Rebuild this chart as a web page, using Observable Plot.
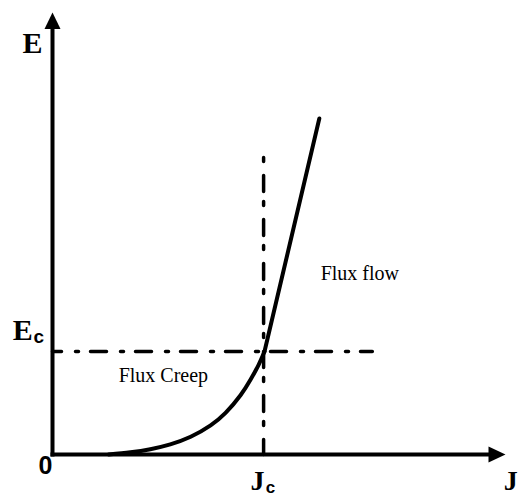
<!DOCTYPE html>
<html>
<head>
<meta charset="utf-8">
<script src="https://cdn.jsdelivr.net/npm/d3@7"></script>
<script src="https://cdn.jsdelivr.net/npm/@observablehq/plot@0.6"></script>
<style>
  html, body { margin: 0; padding: 0; background: #fff; }
</style>
</head>
<body>
<div id="chart"></div>
<script>
// ---- data (arbitrary units, axes run 0..100) ----
const curveJ = [12.4, 17.2, 21.6, 26.0, 30.5, 34.9, 38.2, 41.5, 43.7, 45.5, 46.8];
const curveE = [0, 0.5, 1.2, 2.3, 4.0, 6.6, 9.4, 13.4, 16.9, 20.3, 23.3];
const flowJ = [46.8, 58.9];
const flowE = [23.3, 76.0];
const Jc = 46.6;
const Ec = 23.3;
const jcLineE = [67.2, 0];      // vertical dash-dot line extent (top -> bottom)
const ecLineJ = [0, 70.6];      // horizontal dash-dot line extent
const axisJ = [0, 96.7];        // x-axis shaft
const axisE = [0, 96.4];        // y-axis shaft
const axisTip = 100;

const curve = curveJ.map((j, i) => ({J: j, E: curveE[i]}));
const flow = flowJ.map((j, i) => ({J: j, E: flowE[i]}));

const arrowUp = {draw(ctx) { ctx.moveTo(0, 0); ctx.lineTo(-8, 16.5); ctx.lineTo(8, 16.5); ctx.closePath(); }};
const arrowRight = {draw(ctx) { ctx.moveTo(0, 0); ctx.lineTo(-17, -8); ctx.lineTo(-17, 8); ctx.closePath(); }};

const serif = "Liberation Serif, Times New Roman, serif";
const sans = "Liberation Sans, Arial, sans-serif";

const chart = Plot.plot({
  width: 520,
  height: 497,
  marginLeft: 0, marginRight: 0, marginTop: 0, marginBottom: 0,
  x: {domain: [-11.48, 103.31], axis: null},
  y: {domain: [-9.73, 102.71], axis: null},
  style: {background: "#fff", overflow: "hidden"},
  marks: [
    // axes
    Plot.line(axisE.map(e => ({J: 0, E: e})), {x: "J", y: "E", stroke: "#000", strokeWidth: 4, strokeLinecap: "square"}),
    Plot.line(axisJ.map(j => ({J: j, E: 0})), {x: "J", y: "E", stroke: "#000", strokeWidth: 4, strokeLinecap: "square"}),
    Plot.dot([{J: 0, E: axisTip}], {x: "J", y: "E", symbol: arrowUp, fill: "#000", stroke: "none"}),
    Plot.dot([{J: axisTip, E: 0}], {x: "J", y: "E", symbol: arrowRight, fill: "#000", stroke: "none"}),
    // dash-dot guide lines
    Plot.line(jcLineE.map(e => ({J: Jc, E: e})), {x: "J", y: "E", stroke: "#000", strokeWidth: 3.5, strokeDasharray: "4,14,16,10"}),
    Plot.line(ecLineJ.map(j => ({J: j, E: Ec})), {x: "J", y: "E", stroke: "#000", strokeWidth: 3.5, strokeDasharray: "3,12,16,14", strokeDashoffset: 22}),
    // E-J curve
    Plot.line(curve, {x: "J", y: "E", curve: "natural", stroke: "#000", strokeWidth: 4, strokeLinecap: "round"}),
    Plot.line(flow, {x: "J", y: "E", stroke: "#000", strokeWidth: 4, strokeLinecap: "round"}),
    // labels
    Plot.text(["E"], {x: -6.6, y: 90.9, text: d => d, textAnchor: "start", lineAnchor: "bottom", fontFamily: serif, fontWeight: "bold", fontSize: 30, fill: "#000"}),
    Plot.text(["E"], {x: -8.8, y: 25.8, text: d => d, textAnchor: "start", lineAnchor: "bottom", fontFamily: serif, fontWeight: "bold", fontSize: 30, fill: "#000"}),
    Plot.text(["c"], {x: -4.2, y: 25.3, text: d => d, textAnchor: "start", lineAnchor: "bottom", fontFamily: sans, fontWeight: "bold", fontSize: 19, fill: "#000"}),
    Plot.text(["0"], {x: 0, y: -4.5, text: d => d, textAnchor: "end", lineAnchor: "bottom", fontFamily: sans, fontWeight: "bold", fontSize: 25, fill: "#000"}),
    Plot.text(["J"], {x: 43.7, y: -8.0, text: d => d, textAnchor: "start", lineAnchor: "bottom", fontFamily: serif, fontWeight: "bold", fontSize: 28, fill: "#000"}),
    Plot.text(["c"], {x: 47.1, y: -8.6, text: d => d, textAnchor: "start", lineAnchor: "bottom", fontFamily: sans, fontWeight: "bold", fontSize: 17, fill: "#000"}),
    Plot.text(["J"], {x: 99.6, y: -8.0, text: d => d, textAnchor: "start", lineAnchor: "bottom", fontFamily: serif, fontWeight: "bold", fontSize: 28, fill: "#000"}),
    Plot.text(["Flux flow"], {x: 59.2, y: 39.4, text: d => d, textAnchor: "start", lineAnchor: "bottom", fontFamily: serif, fontSize: 20, fill: "#000"}),
    Plot.text(["Flux Creep"], {x: 14.6, y: 16.3, text: d => d, textAnchor: "start", lineAnchor: "bottom", fontFamily: serif, fontSize: 20, fill: "#000"})
  ]
});
document.getElementById("chart").append(chart);
</script>
</body>
</html>
